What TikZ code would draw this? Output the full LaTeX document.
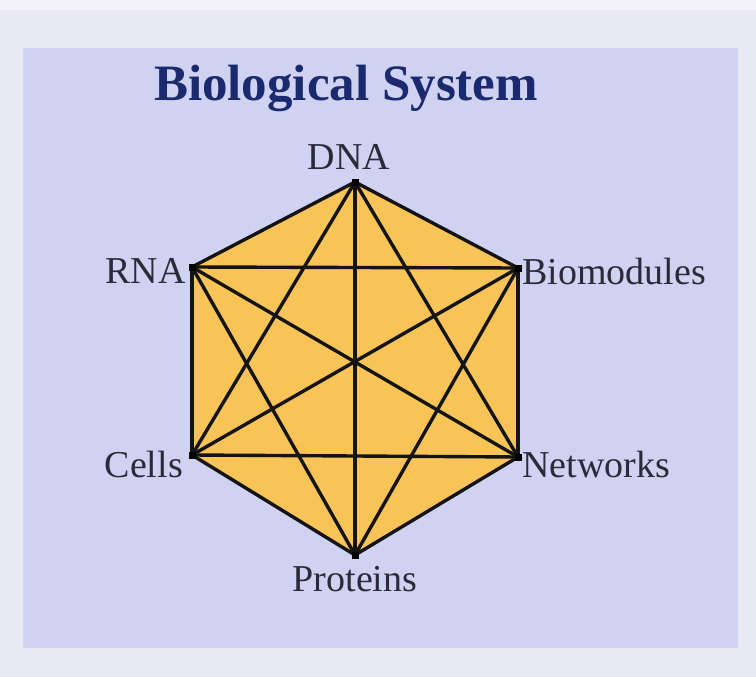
\documentclass[tikz,border=0pt]{standalone}
\usepackage{fontspec}
\setmainfont{Liberation Serif}
\definecolor{outerbg}{HTML}{E9E9F3}
\definecolor{panel}{HTML}{D0D2F1}
\definecolor{hexfill}{HTML}{F9C457}
\definecolor{titlecol}{HTML}{1B2A6E}
\definecolor{labcol}{HTML}{2A2A3A}
\begin{document}
\begin{tikzpicture}[x=1pt,y=-1pt,
  edge/.style={line width=3.4pt,black!92},
  vert/.style={fill=black,minimum size=7pt,inner sep=0pt,rectangle},
  lab/.style={font=\fontsize{38}{40}\selectfont,text=labcol,inner sep=0pt}]
\fill[outerbg] (0,0) rectangle (756,677);
\fill[white!40!outerbg] (0,0) rectangle (756,10);
\fill[panel] (23,48) rectangle (738,648);
\node[font=\bfseries\fontsize{51}{53}\selectfont,text=titlecol,anchor=base] (title) at (346,100) {Biological System};
\coordinate (D) at (355,182);
\coordinate (B) at (518,268);
\coordinate (N) at (518,457);
\coordinate (P) at (355,555);
\coordinate (C) at (192,455);
\coordinate (R) at (192,267);
\fill[hexfill] (D) -- (B) -- (N) -- (P) -- (C) -- (R) -- cycle;
\foreach \a/\b in {D/B,D/N,D/P,D/C,D/R,B/N,B/P,B/C,B/R,N/P,N/C,N/R,P/C,P/R,C/R}
  \draw[edge,line cap=round] (\a) -- (\b);
\foreach \v in {D,B,N,P,C,R} \node[vert] (v\v) at (\v) {};
\node[lab,anchor=base] (lD) at (349,169) {DNA};
\node[lab,anchor=base east] (lR) at (186,283) {RNA};
\node[lab,anchor=base west] (lB) at (522,284) {Biomodules};
\node[lab,anchor=base east] (lC) at (183,477) {Cells};
\node[lab,anchor=base west] (lN) at (522,477) {Networks};
\node[lab,anchor=base] (lP) at (355,591) {Proteins};
\end{tikzpicture}
\end{document}
